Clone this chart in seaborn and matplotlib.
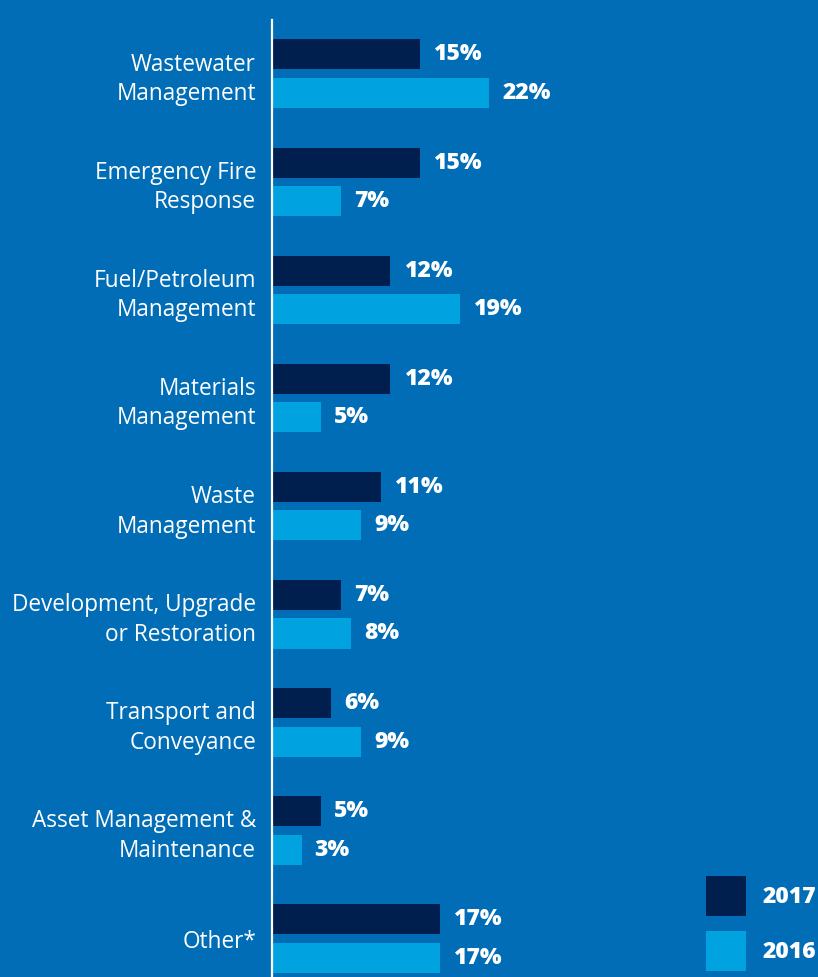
import matplotlib
matplotlib.use("Agg")
import matplotlib.pyplot as plt
from matplotlib.patches import Patch
import seaborn as sns
import pandas as pd

categories = ["Wastewater\nManagement", "Emergency Fire\nResponse", "Fuel/Petroleum\nManagement",
              "Materials\nManagement", "Waste\nManagement", "Development, Upgrade\nor Restoration",
              "Transport and\nConveyance", "Asset Management &\nMaintenance", "Other*"]
values_2017 = [15, 15, 12, 12, 11, 7, 6, 5, 17]
values_2016 = [22, 7, 19, 5, 9, 8, 9, 3, 17]
years = ["2017", "2016"]

BG = "#006DB6"
NAVY = "#001F4E"
LIGHT = "#00A3E0"

sns.set_theme(style="white")
plt.rcParams["font.family"] = ["Open Sans", "DejaVu Sans"]

df = pd.DataFrame({
    "category": categories * 2,
    "value": values_2017 + values_2016,
    "year": [years[0]] * len(categories) + [years[1]] * len(categories),
})

fig = plt.figure(figsize=(8.18, 9.77), dpi=100, facecolor=BG)
ax = fig.add_axes([272 / 818, 0, 1 - 272 / 818, 1 - 20 / 977])
ax.set_facecolor(BG)

sns.barplot(data=df, y="category", x="value", hue="year", hue_order=years,
            palette=[NAVY, LIGHT], orient="h", width=0.713, gap=0.22,
            saturation=1, linewidth=0, ax=ax, legend=False)

ax.set_xlim(0, 55.3)
ax.set_ylim(8.356, -0.497)
ax.set_xlabel("")
ax.set_ylabel("")
ax.set_xticks([])

for c in ax.containers:
    ax.bar_label(c, labels=[f"{int(v)}%" for v in c.datavalues], padding=9.4,
                 color="white", fontsize=16.5, fontweight="heavy")

ax.tick_params(axis="y", length=0, pad=11.5, labelsize=16.3, labelcolor="white")
for t in ax.get_yticklabels():
    t.set_linespacing(1.3)

for s in ["top", "right", "bottom"]:
    ax.spines[s].set_visible(False)
ax.spines["left"].set_color("white")
ax.spines["left"].set_linewidth(1.6)

handles = [Patch(facecolor=NAVY, edgecolor="none"), Patch(facecolor=LIGHT, edgecolor="none")]
fs = 16.5 * 100 / 72
hh = (40 / fs - 0.245) / 0.65
fig.legend(handles, years, loc="upper left",
           bbox_to_anchor=(706 / 818, 1 - 876 / 977),
           bbox_transform=fig.transFigure, frameon=False, borderpad=0, borderaxespad=0,
           handlelength=40 / fs, handleheight=hh, labelspacing=15 / fs,
           handletextpad=17 / fs,
           prop={"size": 16.5, "weight": "heavy"}, labelcolor="white")

fig.savefig("out.png", dpi=100, facecolor=BG)
